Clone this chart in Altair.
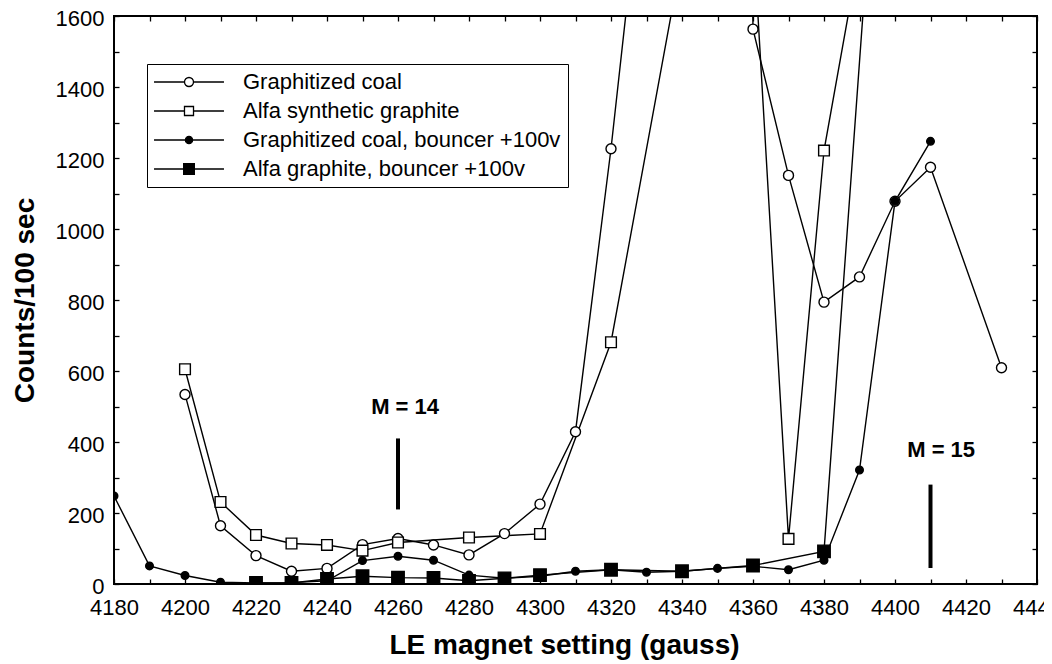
import altair as alt
import pandas as pd

FONT = "Liberation Sans"

# ---- data ----
gc_x = [4200, 4210, 4220, 4230, 4240, 4250, 4260, 4270, 4280, 4290, 4300, 4310,
        4320, 4330, 4340, 4350, 4360, 4370, 4380, 4390, 4400, 4410, 4430]
gc_y = [534, 164, 80, 36, 44, 111, 128, 110, 82, 142, 225, 429,
        1226, 2130, 6000, 9000, 1563, 1151, 794, 865, 1078, 1174, 609]

as_x = [4200, 4210, 4220, 4230, 4240, 4250, 4260, 4280, 4300, 4320, 4340, 4360,
        4370, 4380, 4390]
as_y = [605, 231, 138, 114, 110, 94, 117, 131, 141, 681, 1770, 1840,
        127, 1221, 1780]

gcb_x = [4180, 4190, 4200, 4210, 4220, 4230, 4240, 4250, 4260, 4270, 4280, 4290,
         4300, 4310, 4320, 4330, 4340, 4350, 4360, 4370, 4380, 4390, 4400, 4410]
gcb_y = [248, 51, 24, 5, 3, 4, 9, 66, 78, 67, 25, 16,
         22, 36, 40, 33, 36, 44, 50, 40, 67, 321, 1078, 1247]

agb_x = [4220, 4230, 4240, 4250, 4260, 4270, 4280, 4290, 4300, 4320, 4340, 4360,
         4380, 4400]
agb_y = [3, 3, 14, 22, 18, 17, 9, 16, 25, 40, 36, 52, 92, 2850]

series_names = ["Graphitized coal", "Alfa synthetic graphite",
                "Graphitized coal, bouncer +100v", "Alfa graphite, bouncer +100v"]

x_ticks = [4180, 4190, 4200, 4210, 4220, 4230, 4240, 4250, 4260, 4270, 4280, 4290,
           4300, 4310, 4320, 4330, 4340, 4350, 4360, 4370, 4380, 4390, 4400, 4410,
           4420, 4430, 4440]
y_ticks = [0, 100, 200, 300, 400, 500, 600, 700, 800, 900, 1000, 1100, 1200, 1300,
           1400, 1500, 1600]

mark_x = [4260, 4410]
mark_y1 = [210, 45]
mark_y2 = [410, 280]
label_x = [4262, 4413]
label_y = [498, 378]
label_text = ["M = 14", "M = 15"]

# ---- scales & axes ----
XS = alt.Scale(domain=[4180, 4440], nice=False, zero=False)
YS = alt.Scale(domain=[0, 1600], nice=False, zero=True)

common_axis = dict(domain=False, grid=False, ticks=True, tickSize=5, tickWidth=1.3,
                   tickColor="black", offset=-5, labelFont=FONT, labelFontSize=22,
                   labelColor="black", labelFlush=False, labelOverlap=False,
                   titleFont=FONT, titleFontWeight="bold", titleColor="black")

ax_bottom = alt.Axis(orient="bottom", values=x_ticks, format="d",
                     labelExpr="datum.value % 20 == 0 ? datum.label : ''",
                     labelPadding=13, title="LE magnet setting (gauss)",
                     titleFontSize=28, titlePadding=13, titleX=450, **common_axis)
ax_left = alt.Axis(orient="left", values=y_ticks, format="d",
                   labelExpr="datum.value % 200 == 0 ? datum.label : ''",
                   labelPadding=10, labelOffset=2, title="Counts/100 sec",
                   titleFontSize=28, titlePadding=16, **common_axis)
ax_top = alt.Axis(orient="top", values=x_ticks, labels=False, title=None, **common_axis)
ax_right = alt.Axis(orient="right", values=y_ticks, labels=False, title=None, **common_axis)


def df(xs, ys):
    return pd.DataFrame({"x": xs, "y": ys})


def line(xs, ys, xaxis=None, yaxis=None):
    return alt.Chart(df(xs, ys)).mark_line(color="black", strokeWidth=1.4, clip=True).encode(
        x=alt.X("x:Q", scale=XS, axis=xaxis),
        y=alt.Y("y:Q", scale=YS, axis=yaxis),
    )


def points(xs, ys, shape, fill, size):
    return alt.Chart(df(xs, ys)).mark_point(
        shape=shape, filled=True, fill=fill, stroke="black", strokeWidth=1.4,
        size=size, opacity=1, clip=True
    ).encode(
        x=alt.X("x:Q", scale=XS, axis=None),
        y=alt.Y("y:Q", scale=YS, axis=None),
    )


l_gc = line(gc_x, gc_y, ax_bottom, ax_left)
l_as = line(as_x, as_y, ax_top, ax_right)
l_gcb = line(gcb_x, gcb_y)
l_agb = line(agb_x, agb_y)

p_gc = points(gc_x, gc_y, "circle", "white", 100)
p_as = points(as_x, as_y, "square", "white", 115)
p_gcb = points(gcb_x, gcb_y, "circle", "black", 58)
p_agb = points(agb_x, agb_y, "square", "black", 155)

rules = alt.Chart(pd.DataFrame({"x": mark_x, "y": mark_y1, "y2": mark_y2})).mark_rule(
    color="black", strokeWidth=4
).encode(
    x=alt.X("x:Q", scale=XS, axis=None),
    y=alt.Y("y:Q", scale=YS, axis=None),
    y2="y2:Q",
)

texts = alt.Chart(pd.DataFrame({"x": label_x, "y": label_y, "t": label_text})).mark_text(
    font=FONT, fontSize=22, fontWeight="bold", color="black", align="center", baseline="middle"
).encode(
    x=alt.X("x:Q", scale=XS, axis=None),
    y=alt.Y("y:Q", scale=YS, axis=None),
    text="t:N",
)

# ---- legend (line + marker symbols) ----
L = 6.36


def circle_path(r):
    return (f"M-{L},0L-{r},0M{r},0L{L},0"
            f"M{r},0A{r},{r},0,1,1,-{r},0A{r},{r},0,1,1,{r},0Z")


def square_path(h):
    return (f"M-{L},0L-{h},0M{h},0L{L},0"
            f"M-{h},-{h}L{h},-{h}L{h},{h}L-{h},{h}Z")


legend_shapes = [circle_path(0.82), square_path(0.82), circle_path(0.66), square_path(0.97)]
legend_fills = ["white", "white", "black", "black"]
legend_strokes = ["black", "black", "black", "black"]

leg = alt.Legend(title=None, orient="none", legendX=33, legendY=48, padding=7,
                 rowPadding=7, symbolOffset=24, labelOffset=43, labelFontSize=22,
                 labelFont=FONT, labelColor="black", labelLimit=600, symbolSize=121,
                 symbolStrokeWidth=1.3, symbolStrokeColor="black", symbolOpacity=1,
                 strokeColor="black", fillColor="white")

legend_layer = alt.Chart(pd.DataFrame({"series": series_names})).transform_filter(
    "false"
).mark_point(filled=True, strokeWidth=1.3, opacity=1, size=121).encode(
    shape=alt.Shape("series:N", scale=alt.Scale(domain=series_names, range=legend_shapes), legend=leg),
    fill=alt.Fill("series:N", scale=alt.Scale(domain=series_names, range=legend_fills), legend=leg),
    stroke=alt.Stroke("series:N", scale=alt.Scale(domain=series_names, range=legend_strokes), legend=leg),
)

chart = alt.layer(
    l_gc, l_as, l_gcb, l_agb, rules, texts, p_gc, p_as, p_gcb, p_agb, legend_layer
).resolve_axis(
    x="independent", y="independent"
).properties(
    width=923, height=568,
    padding={"left": 106, "top": 8, "right": 7, "bottom": 80},
    autosize=alt.AutoSizeParams(type="none"),
    background="white",
).configure(
    font=FONT
).configure_view(
    stroke="black", strokeWidth=2
)

chart.save("out.html", embed_options={"renderer": "svg", "actions": False})
